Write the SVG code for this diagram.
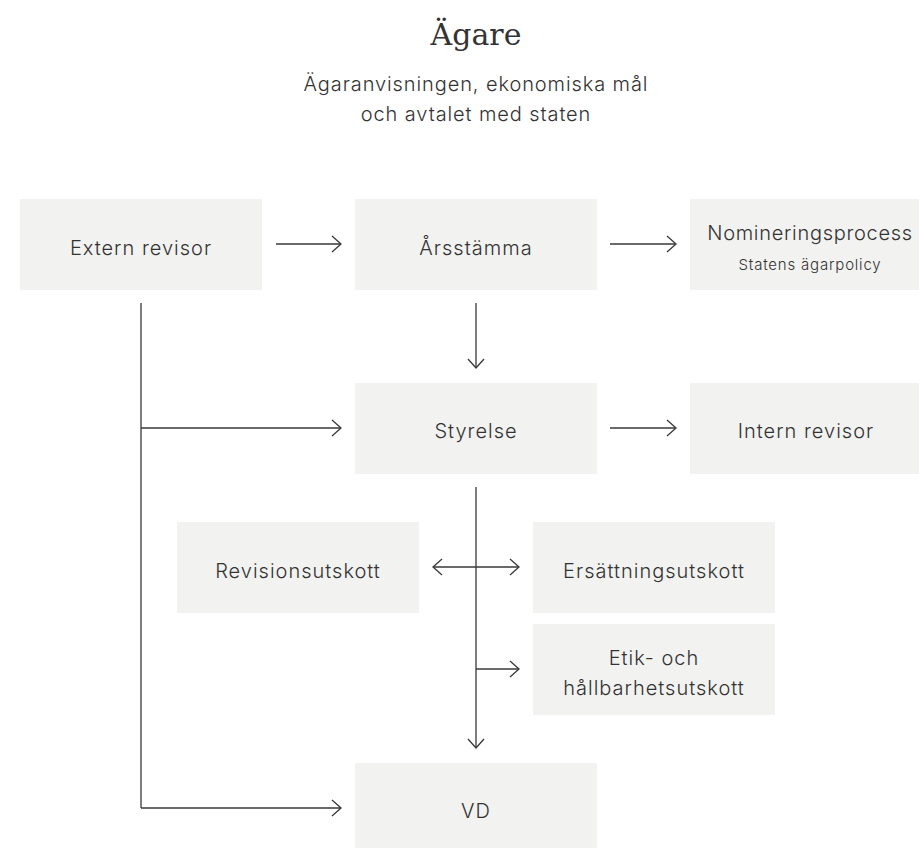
<svg xmlns="http://www.w3.org/2000/svg" width="919" height="848" viewBox="0 0 919 848">
<defs>
<style>
.box{fill:#f2f2f0;}
.t{font-family:Inter,"Noto Sans","Liberation Sans",sans-serif;font-size:20px;font-weight:350;letter-spacing:1px;fill:#333;text-anchor:middle;}
.s{font-family:Inter,"Noto Sans","Liberation Sans",sans-serif;font-size:15px;font-weight:350;letter-spacing:0.8px;fill:#333;text-anchor:middle;}
.ln{fill:none;stroke:#383838;stroke-width:1.3;}
.ar{marker-end:url(#ah);}
</style>
<marker id="ah" viewBox="-11 -10 13 20" refX="0" refY="0" markerWidth="13" markerHeight="20" markerUnits="userSpaceOnUse" orient="auto-start-reverse">
<path d="M-9,-8 L0,0 L-9,8" fill="none" stroke="#383838" stroke-width="1.3"/>
</marker>
</defs>
<rect width="919" height="848" fill="#fff"/>
<g id="title">
<text x="476" y="45" style="font-family:'DejaVu Serif','Liberation Serif',serif;font-size:30px;fill:#333;text-anchor:middle;">Ägare</text>
<text class="t" x="476" y="91" style="letter-spacing:0.9px">Ägaranvisningen, ekonomiska mål</text>
<text class="t" x="476" y="121" style="letter-spacing:0.9px">och avtalet med staten</text>
</g>
<g id="extern-revisor"><rect class="box" x="20" y="199" width="242" height="91"/><text class="t" x="141" y="255">Extern revisor</text></g>
<g id="arsstamma"><rect class="box" x="355" y="199" width="242" height="91"/><text class="t" x="476" y="255">Årsstämma</text></g>
<g id="nominering"><rect class="box" x="690" y="199" width="229" height="91"/><text class="t" x="810" y="240" style="letter-spacing:0.7px">Nomineringsprocess</text><text class="s" x="810" y="270">Statens ägarpolicy</text></g>
<g id="styrelse"><rect class="box" x="355" y="383" width="242" height="91"/><text class="t" x="476" y="438">Styrelse</text></g>
<g id="intern-revisor"><rect class="box" x="690" y="383" width="229" height="91"/><text class="t" x="806" y="438">Intern revisor</text></g>
<g id="revisionsutskott"><rect class="box" x="177" y="522" width="242" height="91"/><text class="t" x="298" y="578">Revisionsutskott</text></g>
<g id="ersattningsutskott"><rect class="box" x="533" y="522" width="242" height="91"/><text class="t" x="654" y="578">Ersättningsutskott</text></g>
<g id="etik"><rect class="box" x="533" y="624" width="242" height="91"/><text class="t" x="654" y="665">Etik- och</text><text class="t" x="654" y="695">hållbarhetsutskott</text></g>
<g id="vd"><rect class="box" x="355" y="763" width="242" height="91"/><text class="t" x="476" y="818">VD</text></g>
<g id="connectors">
<line class="ln ar" x1="276" y1="244" x2="341" y2="244"/>
<line class="ln ar" x1="610" y1="244" x2="676" y2="244"/>
<line class="ln ar" x1="476" y1="303" x2="476" y2="368"/>
<line class="ln ar" x1="610" y1="428" x2="676" y2="428"/>
<polyline class="ln" points="141,303 141,808"/>
<line class="ln ar" x1="141" y1="428" x2="341" y2="428"/>
<line class="ln ar" x1="141" y1="808" x2="341" y2="808"/>
<line class="ln ar" x1="476" y1="487" x2="476" y2="748"/>
<line class="ln ar" x1="433" y1="567" x2="519" y2="567" style="marker-start:url(#ah)"/>
<line class="ln ar" x1="476" y1="669" x2="519" y2="669"/>
</g>
</svg>
